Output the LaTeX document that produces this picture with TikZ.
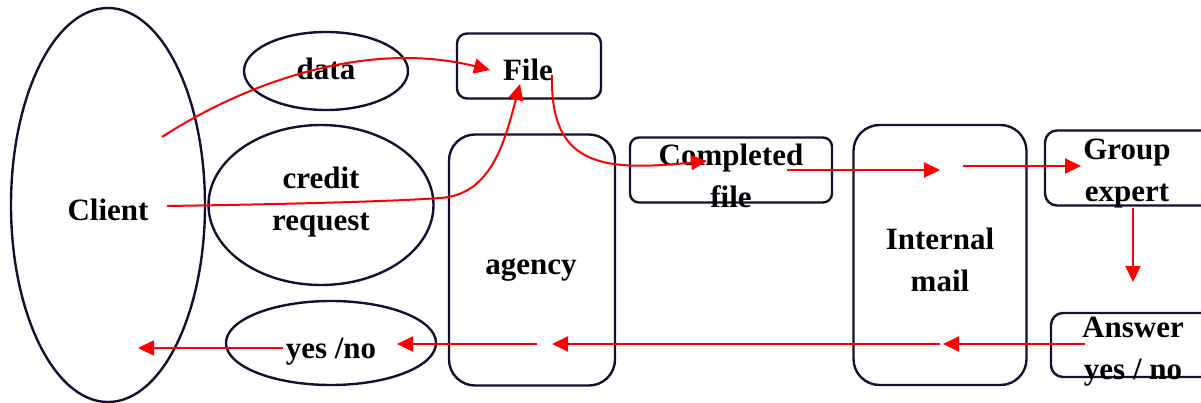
\documentclass[tikz,border=0pt]{standalone}
\usepackage{fontspec}
\setmainfont{Liberation Serif}
\usetikzlibrary{shapes.geometric,arrows.meta}
\definecolor{inkline}{HTML}{151030}
\begin{document}
\begin{tikzpicture}[x=1pt,y=-1pt,
  outline/.style={draw=inkline, line width=2.4pt},
  oval/.style={outline, ellipse, inner sep=0pt},
  rbox/.style={outline, rectangle, inner sep=0pt},
  lbl/.style={font=\fontsize{31}{42}\selectfont\bfseries, align=center, inner sep=0pt},
  flow/.style={draw=red, line width=2pt, -{Triangle[length=16pt,width=15pt]}}
]
\clip (0,0) rectangle (1201,403);

% shapes
\node[oval, minimum width=194pt, minimum height=394pt] (client) at (108,205) {};
\node[oval, minimum width=164pt, minimum height=78pt] (data) at (326,71) {};
\node[oval, minimum width=225pt, minimum height=160pt] (credit) at (321,205) {};
\node[oval, minimum width=210pt, minimum height=84pt] (yesno) at (331,343) {};
\node[rbox, rounded corners=10pt, minimum width=144pt, minimum height=65pt] (file) at (529,66) {};
\node[rbox, rounded corners=26pt, minimum width=166pt, minimum height=251pt] (agency) at (532,260) {};
\node[rbox, rounded corners=9pt, minimum width=202pt, minimum height=65pt] (completed) at (731,170) {};
\node[rbox, rounded corners=26pt, minimum width=173pt, minimum height=260pt] (mail) at (940,255) {};
\node[rbox, rounded corners=12pt, minimum width=170pt, minimum height=75pt] (group) at (1130,168) {};
\node[rbox, rounded corners=12pt, minimum width=170pt, minimum height=64pt] (answer) at (1136,345) {};

% labels
\node[lbl] (clientT) at (108,210) {Client};
\node[lbl] (dataT) at (326,69) {data};
\node[lbl] (creditT) at (321,202) {credit\\request};
\node[lbl] (yesnoT) at (331,352) {yes /no};
\node[lbl] (fileT) at (528,70) {File};
\node[lbl] (agencyT) at (531,270) {agency};
\node[lbl] (completedT) at (731,176) {Completed\\file};
\node[lbl] (mailT) at (940,260) {Internal\\mail};
\node[lbl] (groupT) at (1127,174) {Group\\expert};
\node[lbl] (answerT) at (1133,352) {Answer\\yes / no};

% connector end points
\coordinate (s1) at (162,137);  \coordinate (t1) at (490,70);
\coordinate (s2) at (167,206);  \coordinate (m2) at (440,198); \coordinate (t2) at (520,84);
\coordinate (s3) at (552,75);   \coordinate (t3) at (707,161);
\coordinate (s4) at (787,170);  \coordinate (t4) at (940,170);
\coordinate (s5) at (963,166);  \coordinate (t5) at (1081,166);
\coordinate (s6) at (1133,208); \coordinate (t6) at (1133,282);
\coordinate (s7) at (1085,344); \coordinate (t7) at (943,344);
\coordinate (s8) at (940,344);  \coordinate (t8) at (552,344);
\coordinate (s9) at (537,344);  \coordinate (t9) at (397,344);
\coordinate (s10) at (283,348); \coordinate (t10) at (138,348);

% flows
\draw[flow] (s1) .. controls (250,80) and (370,40) .. (t1);
\draw[flow] (s2) .. controls (300,204) and (400,201) .. (m2) .. controls (492,195) and (505,140) .. (t2);
\draw[flow] (s3) .. controls (550,165) and (600,172) .. (t3);
\draw[flow] (s4) -- (t4);
\draw[flow] (s5) -- (t5);
\draw[flow] (s6) -- (t6);
\draw[flow] (s7) -- (t7);
\draw[flow] (s8) -- (t8);
\draw[flow] (s9) -- (t9);
\draw[flow] (s10) -- (t10);
\end{tikzpicture}
\end{document}
